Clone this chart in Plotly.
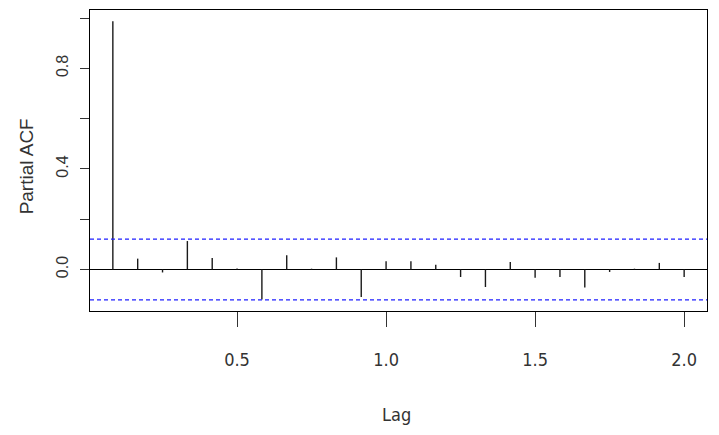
import plotly.graph_objects as go

# Partial autocorrelations of a monthly series (frequency 12), lags 1..24
freq = 12
lag_months = [1, 2, 3, 4, 5, 6, 7, 8, 9, 10, 11, 12,
              13, 14, 15, 16, 17, 18, 19, 20, 21, 22, 23, 24]
pacf_vals = [0.988, 0.043, -0.012, 0.113, 0.046, 0.004, -0.120, 0.056,
             0.003, 0.048, -0.110, 0.033, 0.033, 0.019, -0.030, -0.070,
             0.030, -0.033, -0.030, -0.072, -0.010, 0.003, 0.026, -0.030]
conf_limit = 0.121
x_ticks = [0.5, 1.0, 1.5, 2.0]
x_ticktext = ["0.5", "1.0", "1.5", "2.0"]
y_ticks = [0.0, 0.2, 0.4, 0.6, 0.8, 1.0]
y_ticktext = ["0.0", "", "0.4", "", "0.8", ""]

lags = [m / freq for m in lag_months]

# vertical spikes from zero to each partial autocorrelation
xs, ys = [], []
for lag, v in zip(lags, pacf_vals):
    xs += [lag, lag, None]
    ys += [0, v, None]

# axis limits padded by 4% like base graphics
x_lo, x_hi = min(lags), max(lags)
x_pad = 0.04 * (x_hi - x_lo)
y_lo = min(-conf_limit, min(pacf_vals))
y_hi = max(conf_limit, max(pacf_vals))
y_pad = 0.04 * (y_hi - y_lo)

narrow = "DejaVu Sans Condensed, Liberation Sans Narrow, sans-serif"
regular = "Liberation Sans, Arial, sans-serif"

fig = go.Figure()
fig.add_trace(go.Scatter(x=xs, y=ys, mode="lines",
                         line=dict(color="#1a1a1a", width=1.4),
                         hoverinfo="skip", showlegend=False))

for c in (conf_limit, -conf_limit):
    fig.add_shape(type="line", xref="paper", yref="y", x0=0, x1=1, y0=c, y1=c,
                  line=dict(color="#1f1fff", width=1.2, dash="4px,3px"))

fig.add_annotation(text="Partial ACF", xref="paper", yref="paper",
                   x=-0.103, y=0.482, xanchor="center", yanchor="middle",
                   textangle=-90, showarrow=False,
                   font=dict(family=regular, size=19, color="#333333"))
fig.add_annotation(text="Lag", xref="paper", yref="paper",
                   x=0.497, y=-0.345, xanchor="center", yanchor="middle",
                   showarrow=False,
                   font=dict(family=narrow, size=18, color="#333333"))

fig.update_layout(
    width=719, height=435,
    margin=dict(l=90, r=12, t=10, b=124),
    paper_bgcolor="white", plot_bgcolor="white",
    xaxis=dict(range=[x_lo - x_pad, x_hi + x_pad], showgrid=False, zeroline=False,
               showline=True, linecolor="black", linewidth=1.2, mirror=True,
               ticks="outside", ticklen=15, tickcolor="#333333", tickwidth=1.2,
               tickvals=x_ticks, ticktext=x_ticktext, ticklabelstandoff=17,
               tickfont=dict(family=narrow, size=18, color="#333333")),
    yaxis=dict(range=[y_lo - y_pad, y_hi + y_pad], showgrid=False,
               zeroline=True, zerolinecolor="black", zerolinewidth=1.4,
               showline=True, linecolor="black", linewidth=1.2, mirror=True,
               ticks="outside", ticklen=9, tickcolor="#333333", tickwidth=1.2,
               tickvals=y_ticks, ticktext=y_ticktext, tickangle=-90,
               ticklabelstandoff=6,
               tickfont=dict(family=regular, size=16, color="#333333")),
)

fig.write_html("out.html")
